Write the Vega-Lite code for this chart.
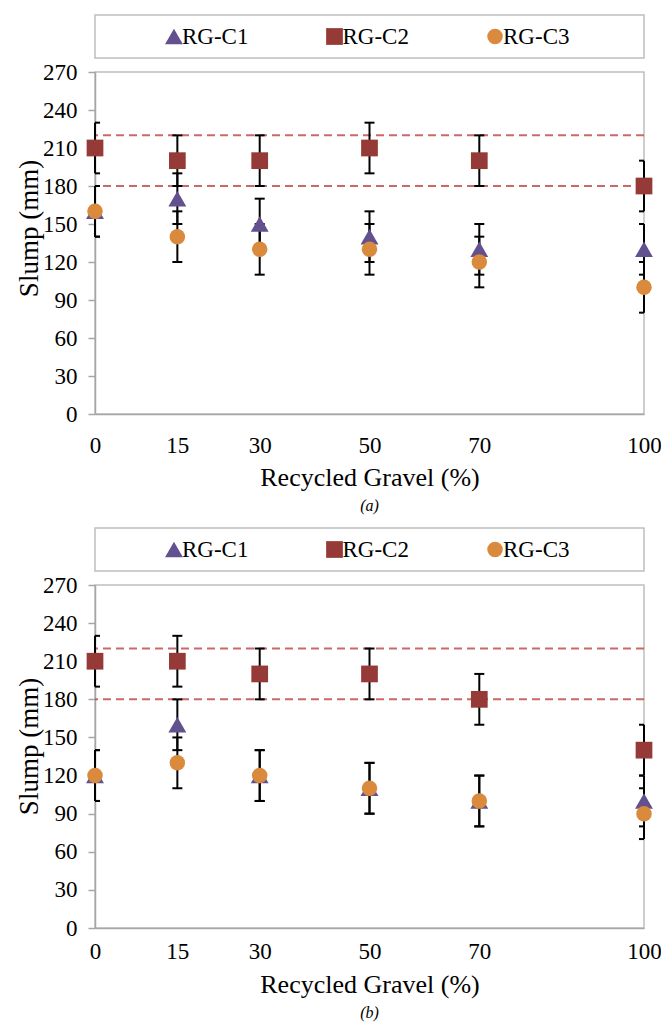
{
  "$schema": "https://vega.github.io/schema/vega-lite/v6.json",
  "background": "white",
  "padding": {"left": 14, "top": 14, "right": 2, "bottom": 2},
  "config": {
    "font": "Liberation Serif",
    "view": {"stroke": "#bfbfbf", "strokeWidth": 1.5},
    "axis": {
      "labelFont": "Liberation Serif", "titleFont": "Liberation Serif",
      "labelColor": "black", "titleColor": "black",
      "labelFontSize": 23, "titleFontSize": 26, "titleFontWeight": "normal",
      "grid": false, "domainColor": "#a6a6a6", "domainWidth": 1.5,
      "tickColor": "#a6a6a6", "tickWidth": 1.5, "labelOverlap": false, "labelFlush": false
    },
    "axisY": {"titleFontSize": 27}
  },
  "datasets": {
    "points": [
      {"panel": "a", "gravel": 0, "series": "RG-C1", "slump": 160, "lo": 140, "hi": 180},
      {"panel": "a", "gravel": 15, "series": "RG-C1", "slump": 170, "lo": 150, "hi": 190},
      {"panel": "a", "gravel": 30, "series": "RG-C1", "slump": 150, "lo": 130, "hi": 170},
      {"panel": "a", "gravel": 50, "series": "RG-C1", "slump": 140, "lo": 120, "hi": 160},
      {"panel": "a", "gravel": 70, "series": "RG-C1", "slump": 130, "lo": 110, "hi": 150},
      {"panel": "a", "gravel": 100, "series": "RG-C1", "slump": 130, "lo": 110, "hi": 150},
      {"panel": "a", "gravel": 0, "series": "RG-C2", "slump": 210, "lo": 190, "hi": 230},
      {"panel": "a", "gravel": 15, "series": "RG-C2", "slump": 200, "lo": 180, "hi": 220},
      {"panel": "a", "gravel": 30, "series": "RG-C2", "slump": 200, "lo": 180, "hi": 220},
      {"panel": "a", "gravel": 50, "series": "RG-C2", "slump": 210, "lo": 190, "hi": 230},
      {"panel": "a", "gravel": 70, "series": "RG-C2", "slump": 200, "lo": 180, "hi": 220},
      {"panel": "a", "gravel": 100, "series": "RG-C2", "slump": 180, "lo": 160, "hi": 200},
      {"panel": "a", "gravel": 0, "series": "RG-C3", "slump": 160, "lo": 140, "hi": 180},
      {"panel": "a", "gravel": 15, "series": "RG-C3", "slump": 140, "lo": 120, "hi": 160},
      {"panel": "a", "gravel": 30, "series": "RG-C3", "slump": 130, "lo": 110, "hi": 150},
      {"panel": "a", "gravel": 50, "series": "RG-C3", "slump": 130, "lo": 110, "hi": 150},
      {"panel": "a", "gravel": 70, "series": "RG-C3", "slump": 120, "lo": 100, "hi": 140},
      {"panel": "a", "gravel": 100, "series": "RG-C3", "slump": 100, "lo": 80, "hi": 120},
      {"panel": "b", "gravel": 0, "series": "RG-C1", "slump": 120, "lo": 100, "hi": 140},
      {"panel": "b", "gravel": 15, "series": "RG-C1", "slump": 160, "lo": 140, "hi": 180},
      {"panel": "b", "gravel": 30, "series": "RG-C1", "slump": 120, "lo": 100, "hi": 140},
      {"panel": "b", "gravel": 50, "series": "RG-C1", "slump": 110, "lo": 90, "hi": 130},
      {"panel": "b", "gravel": 70, "series": "RG-C1", "slump": 100, "lo": 80, "hi": 120},
      {"panel": "b", "gravel": 100, "series": "RG-C1", "slump": 100, "lo": 80, "hi": 120},
      {"panel": "b", "gravel": 0, "series": "RG-C2", "slump": 210, "lo": 190, "hi": 230},
      {"panel": "b", "gravel": 15, "series": "RG-C2", "slump": 210, "lo": 190, "hi": 230},
      {"panel": "b", "gravel": 30, "series": "RG-C2", "slump": 200, "lo": 180, "hi": 220},
      {"panel": "b", "gravel": 50, "series": "RG-C2", "slump": 200, "lo": 180, "hi": 220},
      {"panel": "b", "gravel": 70, "series": "RG-C2", "slump": 180, "lo": 160, "hi": 200},
      {"panel": "b", "gravel": 100, "series": "RG-C2", "slump": 140, "lo": 120, "hi": 160},
      {"panel": "b", "gravel": 0, "series": "RG-C3", "slump": 120, "lo": 100, "hi": 140},
      {"panel": "b", "gravel": 15, "series": "RG-C3", "slump": 130, "lo": 110, "hi": 150},
      {"panel": "b", "gravel": 30, "series": "RG-C3", "slump": 120, "lo": 100, "hi": 140},
      {"panel": "b", "gravel": 50, "series": "RG-C3", "slump": 110, "lo": 90, "hi": 130},
      {"panel": "b", "gravel": 70, "series": "RG-C3", "slump": 100, "lo": 80, "hi": 120},
      {"panel": "b", "gravel": 100, "series": "RG-C3", "slump": 90, "lo": 70, "hi": 110}
    ],
    "refs": [{"slump": 180}, {"slump": 220}],
    "legend": [{"series": "RG-C1"}, {"series": "RG-C2"}, {"series": "RG-C3"}]
  },
  "spacing": 12,
  "resolve": {"scale": {"x": "independent", "y": "independent"}},
  "vconcat": [
    {
      "bounds": "flush",
      "spacing": 14,
      "resolve": {"scale": {"x": "independent", "y": "independent"}},
      "vconcat": [
        {
          "width": 549, "height": 43,
          "data": {"name": "legend"},
          "layer": [
            {
              "mark": {"type": "point", "filled": true, "opacity": 1, "xOffset": -35},
              "encoding": {
                "x": {"field": "series", "type": "nominal", "scale": {"type": "point", "padding": 0.71}, "axis": null},
                "shape": {"field": "series", "type": "nominal", "scale": {"domain": ["RG-C1", "RG-C2", "RG-C3"], "range": ["triangle-up", "square", "circle"]}, "legend": null},
                "size": {"field": "series", "type": "nominal", "scale": {"domain": ["RG-C1", "RG-C2", "RG-C3"], "range": [320, 240, 250]}, "legend": null},
                "color": {"field": "series", "type": "nominal", "scale": {"domain": ["RG-C1", "RG-C2", "RG-C3"], "range": ["#62508f", "#953a37", "#d98a3c"]}, "legend": null}
              }
            },
            {
              "mark": {"type": "text", "align": "left", "baseline": "middle", "dx": -27, "fontSize": 23, "font": "Liberation Serif", "color": "black"},
              "encoding": {
                "x": {"field": "series", "type": "nominal", "scale": {"type": "point", "padding": 0.71}, "axis": null},
                "text": {"field": "series", "type": "nominal"}
              }
            }
          ]
        },
        {
          "width": 549, "height": 342,
          "title": {"text": "(a)", "orient": "bottom", "offset": 8, "fontStyle": "italic", "fontSize": 16, "font": "Liberation Serif", "fontWeight": "normal", "color": "black"},
          "encoding": {
            "x": {"field": "gravel", "type": "quantitative", "title": "Recycled Gravel (%)", "scale": {"domain": [0, 100], "nice": false},
              "axis": {"values": [0, 15, 30, 50, 70, 100], "ticks": false, "labelPadding": 20, "titleY": 63, "titleBaseline": "middle"}}
          },
          "layer": [
            {
              "data": {"name": "refs"},
              "mark": {"type": "rule", "color": "#c0504d", "strokeWidth": 2, "strokeDash": [8, 5], "opacity": 0.85},
              "encoding": {
                "x": null,
                "y": {"field": "slump", "type": "quantitative", "title": "Slump (mm)", "scale": {"domain": [0, 270], "nice": false},
                  "axis": {"values": [0, 30, 60, 90, 120, 150, 180, 210, 240, 270], "tickSize": 7, "labelPadding": 11, "titleX": -66, "titleY": 156, "titleBaseline": "middle"}}
              }
            },
            {
              "data": {"name": "points"},
              "transform": [{"filter": "datum.panel === 'a'"}],
              "mark": {"type": "rule", "color": "black", "strokeWidth": 2},
              "encoding": {
                "y": {"field": "lo", "type": "quantitative", "title": "Slump (mm)", "axis": {"values": [0, 30, 60, 90, 120, 150, 180, 210, 240, 270], "tickSize": 7, "labelPadding": 11, "titleX": -66, "titleY": 156, "titleBaseline": "middle"}},
                "y2": {"field": "hi"}
              }
            },
            {
              "data": {"name": "points"},
              "transform": [{"filter": "datum.panel === 'a'"}],
              "mark": {"type": "tick", "orient": "horizontal", "size": 10, "thickness": 2, "color": "black", "clip": true, "opacity": 1},
              "encoding": {
                "y": {"field": "lo", "type": "quantitative", "title": "Slump (mm)", "axis": {"values": [0, 30, 60, 90, 120, 150, 180, 210, 240, 270], "tickSize": 7, "labelPadding": 11, "titleX": -66, "titleY": 156, "titleBaseline": "middle"}}
              }
            },
            {
              "data": {"name": "points"},
              "transform": [{"filter": "datum.panel === 'a'"}],
              "mark": {"type": "tick", "orient": "horizontal", "size": 10, "thickness": 2, "color": "black", "clip": true, "opacity": 1},
              "encoding": {
                "y": {"field": "hi", "type": "quantitative", "title": "Slump (mm)", "axis": {"values": [0, 30, 60, 90, 120, 150, 180, 210, 240, 270], "tickSize": 7, "labelPadding": 11, "titleX": -66, "titleY": 156, "titleBaseline": "middle"}}
              }
            },
            {
              "data": {"name": "points"},
              "transform": [{"filter": "datum.panel === 'a'"}],
              "mark": {"type": "point", "filled": true, "opacity": 1},
              "encoding": {
                "y": {"field": "slump", "type": "quantitative", "title": "Slump (mm)", "axis": {"values": [0, 30, 60, 90, 120, 150, 180, 210, 240, 270], "tickSize": 7, "labelPadding": 11, "titleX": -66, "titleY": 156, "titleBaseline": "middle"}},
                "shape": {"field": "series", "type": "nominal", "scale": {"domain": ["RG-C1", "RG-C2", "RG-C3"], "range": ["triangle-up", "square", "circle"]}, "legend": null},
                "size": {"field": "series", "type": "nominal", "scale": {"domain": ["RG-C1", "RG-C2", "RG-C3"], "range": [320, 240, 250]}, "legend": null},
                "color": {"field": "series", "type": "nominal", "scale": {"domain": ["RG-C1", "RG-C2", "RG-C3"], "range": ["#62508f", "#953a37", "#d98a3c"]}, "legend": null}
              }
            }
          ]
        }
      ]
    },
    {
      "bounds": "flush",
      "spacing": 14,
      "resolve": {"scale": {"x": "independent", "y": "independent"}},
      "vconcat": [
        {
          "width": 549, "height": 43,
          "data": {"name": "legend"},
          "layer": [
            {
              "mark": {"type": "point", "filled": true, "opacity": 1, "xOffset": -35},
              "encoding": {
                "x": {"field": "series", "type": "nominal", "scale": {"type": "point", "padding": 0.71}, "axis": null},
                "shape": {"field": "series", "type": "nominal", "scale": {"domain": ["RG-C1", "RG-C2", "RG-C3"], "range": ["triangle-up", "square", "circle"]}, "legend": null},
                "size": {"field": "series", "type": "nominal", "scale": {"domain": ["RG-C1", "RG-C2", "RG-C3"], "range": [320, 240, 250]}, "legend": null},
                "color": {"field": "series", "type": "nominal", "scale": {"domain": ["RG-C1", "RG-C2", "RG-C3"], "range": ["#62508f", "#953a37", "#d98a3c"]}, "legend": null}
              }
            },
            {
              "mark": {"type": "text", "align": "left", "baseline": "middle", "dx": -27, "fontSize": 23, "font": "Liberation Serif", "color": "black"},
              "encoding": {
                "x": {"field": "series", "type": "nominal", "scale": {"type": "point", "padding": 0.71}, "axis": null},
                "text": {"field": "series", "type": "nominal"}
              }
            }
          ]
        },
        {
          "width": 549, "height": 343,
          "title": {"text": "(b)", "orient": "bottom", "offset": 8, "fontStyle": "italic", "fontSize": 16, "font": "Liberation Serif", "fontWeight": "normal", "color": "black"},
          "encoding": {
            "x": {"field": "gravel", "type": "quantitative", "title": "Recycled Gravel (%)", "scale": {"domain": [0, 100], "nice": false},
              "axis": {"values": [0, 15, 30, 50, 70, 100], "ticks": false, "labelPadding": 12, "titleY": 56, "titleBaseline": "middle"}}
          },
          "layer": [
            {
              "data": {"name": "refs"},
              "mark": {"type": "rule", "color": "#c0504d", "strokeWidth": 2, "strokeDash": [8, 5], "opacity": 0.85},
              "encoding": {
                "x": null,
                "y": {"field": "slump", "type": "quantitative", "title": "Slump (mm)", "scale": {"domain": [0, 270], "nice": false},
                  "axis": {"values": [0, 30, 60, 90, 120, 150, 180, 210, 240, 270], "tickSize": 7, "labelPadding": 11, "titleX": -66, "titleY": 161, "titleBaseline": "middle"}}
              }
            },
            {
              "data": {"name": "points"},
              "transform": [{"filter": "datum.panel === 'b'"}],
              "mark": {"type": "rule", "color": "black", "strokeWidth": 2},
              "encoding": {
                "y": {"field": "lo", "type": "quantitative", "title": "Slump (mm)", "axis": {"values": [0, 30, 60, 90, 120, 150, 180, 210, 240, 270], "tickSize": 7, "labelPadding": 11, "titleX": -66, "titleY": 161, "titleBaseline": "middle"}},
                "y2": {"field": "hi"}
              }
            },
            {
              "data": {"name": "points"},
              "transform": [{"filter": "datum.panel === 'b'"}],
              "mark": {"type": "tick", "orient": "horizontal", "size": 10, "thickness": 2, "color": "black", "clip": true, "opacity": 1},
              "encoding": {
                "y": {"field": "lo", "type": "quantitative", "title": "Slump (mm)", "axis": {"values": [0, 30, 60, 90, 120, 150, 180, 210, 240, 270], "tickSize": 7, "labelPadding": 11, "titleX": -66, "titleY": 161, "titleBaseline": "middle"}}
              }
            },
            {
              "data": {"name": "points"},
              "transform": [{"filter": "datum.panel === 'b'"}],
              "mark": {"type": "tick", "orient": "horizontal", "size": 10, "thickness": 2, "color": "black", "clip": true, "opacity": 1},
              "encoding": {
                "y": {"field": "hi", "type": "quantitative", "title": "Slump (mm)", "axis": {"values": [0, 30, 60, 90, 120, 150, 180, 210, 240, 270], "tickSize": 7, "labelPadding": 11, "titleX": -66, "titleY": 161, "titleBaseline": "middle"}}
              }
            },
            {
              "data": {"name": "points"},
              "transform": [{"filter": "datum.panel === 'b'"}],
              "mark": {"type": "point", "filled": true, "opacity": 1},
              "encoding": {
                "y": {"field": "slump", "type": "quantitative", "title": "Slump (mm)", "axis": {"values": [0, 30, 60, 90, 120, 150, 180, 210, 240, 270], "tickSize": 7, "labelPadding": 11, "titleX": -66, "titleY": 161, "titleBaseline": "middle"}},
                "shape": {"field": "series", "type": "nominal", "scale": {"domain": ["RG-C1", "RG-C2", "RG-C3"], "range": ["triangle-up", "square", "circle"]}, "legend": null},
                "size": {"field": "series", "type": "nominal", "scale": {"domain": ["RG-C1", "RG-C2", "RG-C3"], "range": [320, 240, 250]}, "legend": null},
                "color": {"field": "series", "type": "nominal", "scale": {"domain": ["RG-C1", "RG-C2", "RG-C3"], "range": ["#62508f", "#953a37", "#d98a3c"]}, "legend": null}
              }
            }
          ]
        }
      ]
    }
  ]
}
